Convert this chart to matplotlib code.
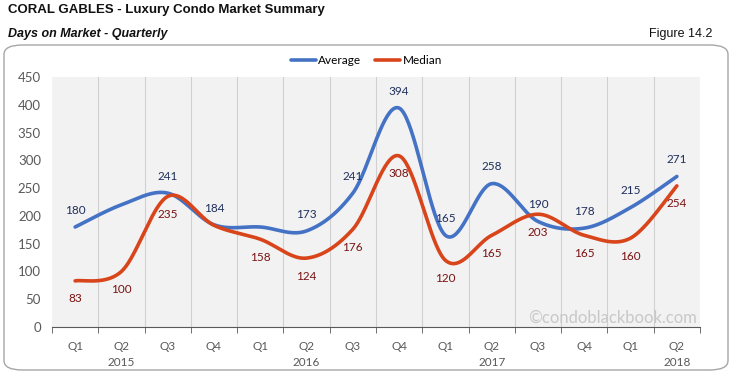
import numpy as np
import matplotlib
matplotlib.use('Agg')
import matplotlib.pyplot as plt
from matplotlib.patches import FancyBboxPatch

#-------------------------------------------------------------
# Data
quarters = ['Q1', 'Q2', 'Q3', 'Q4', 'Q1', 'Q2', 'Q3', 'Q4', 'Q1', 'Q2', 'Q3', 'Q4', 'Q1', 'Q2']
years = ['2015', '2016', '2017', '2018']
year_pos = [1, 5, 9, 13]
average = [180, 220, 241, 184, 180, 173, 241, 394, 165, 258, 190, 178, 215, 271]
median = [83, 100, 235, 183, 158, 124, 176, 308, 120, 165, 203, 165, 160, 254]
# points that carry a data label
avg_labelled = [0, 2, 3, 5, 6, 7, 8, 9, 10, 11, 12, 13]
med_labelled = [0, 1, 2, 4, 5, 6, 7, 8, 9, 10, 11, 12, 13]

blue = '#4472C4'
red = '#D8451B'


#-------------------------------------------------------------
# Excel-like smoothed line (Catmull-Rom through the points)
def smooth(y, n=40):
    x = np.arange(len(y), dtype=float)
    y = np.asarray(y, dtype=float)
    px = np.concatenate([[x[0]], x, [x[-1]]])
    py = np.concatenate([[y[0]], y, [y[-1]]])
    xs, ys = [], []
    t = np.linspace(0, 1, n)
    for i in range(1, len(px) - 2):
        p0, p1, p2, p3 = [np.array([px[k], py[k]]) for k in (i - 1, i, i + 1, i + 2)]
        c1 = p1 + (p2 - p0) / 6
        c2 = p2 - (p3 - p1) / 6
        b = ((1 - t) ** 3)[:, None] * p1 + (3 * (1 - t) ** 2 * t)[:, None] * c1 \
            + (3 * (1 - t) * t ** 2)[:, None] * c2 + (t ** 3)[:, None] * p2
        xs.append(b[:, 0])
        ys.append(b[:, 1])
    return np.concatenate(xs), np.concatenate(ys)


#-------------------------------------------------------------
# Figure
plt.rcParams['font.family'] = ['Liberation Sans', 'DejaVu Sans']
fig = plt.figure(figsize=(7.33, 3.77), dpi=100)

box = FancyBboxPatch((4 / 733, 7 / 377), 724 / 733, 325 / 377,
                     boxstyle='round,pad=0,rounding_size=0.025',
                     transform=fig.transFigure, facecolor='white',
                     edgecolor='#A6A6A6', linewidth=1.0, zorder=-5)
fig.patches.append(box)

fig.text(8 / 733, 1 - 10 / 377, 'CORAL GABLES - Luxury Condo Market Summary',
         fontsize=9.5, fontweight='bold', va='center', ha='left', color='#111111')
fig.text(8 / 733, 1 - 34 / 377, 'Days on Market - Quarterly',
         fontsize=9, fontweight='bold', style='italic', va='center', ha='left', color='#111111')
fig.text(712 / 733, 1 - 34 / 377, 'Figure 14.2',
         fontsize=9, va='center', ha='right', color='#111111')

ax = fig.add_axes([52 / 733, 50 / 377, 648 / 733, 250 / 377])
ax.set_zorder(2)
ax.set_facecolor('#F2F2F2')

x = np.arange(len(quarters))
sx, sy = smooth(average)
ax.plot(sx, sy, color=blue, linewidth=2.6, label='Average', solid_capstyle='round')
sx, sy = smooth(median)
ax.plot(sx, sy, color=red, linewidth=2.6, label='Median', solid_capstyle='round')

for i in avg_labelled:
    ax.annotate(str(average[i]), (x[i], average[i]), xytext=(0, 12),
                textcoords='offset points', ha='center', va='center',
                fontsize=8.5, color='#1F2F5A', family=['Lato', 'DejaVu Sans'])
for i in med_labelled:
    ax.annotate(str(median[i]), (x[i], median[i]), xytext=(0, -13),
                textcoords='offset points', ha='center', va='center',
                fontsize=8.5, color='#7A1212', family=['Lato', 'DejaVu Sans'])

ax.set_xlim(-0.5, len(quarters) - 0.5)
ax.set_ylim(0, 450)
ax.set_yticks(np.arange(0, 451, 50))
ax.tick_params(axis='y', length=0, labelsize=9.5, labelcolor='#595959', pad=8)
for lab in ax.get_yticklabels():
    lab.set_family(['Lato', 'DejaVu Sans'])

ax.set_xticks(x)
ax.set_xticklabels(quarters)
ax.tick_params(axis='x', which='major', length=0, labelsize=8.5, labelcolor='#595959', pad=10)
for lab in ax.get_xticklabels():
    lab.set_family(['Lato', 'DejaVu Sans'])
bounds = np.arange(-0.5, len(quarters), 1.0)
ax.set_xticks(bounds, minor=True)
ax.tick_params(axis='x', which='minor', length=4, color='#595959')
for b in bounds[1:-1]:
    ax.axvline(b, color='#D0D0D0', linewidth=0.8, zorder=0)

for xp, yr in zip(year_pos, years):
    ax.text(xp, -0.14, yr, transform=ax.get_xaxis_transform(), ha='center', va='center',
            fontsize=8.5, color='#595959', family=['Lato', 'DejaVu Sans'])

for s in ['top', 'right', 'left']:
    ax.spines[s].set_visible(False)
ax.spines['bottom'].set_color('#595959')

ax.text(0.995, 0.035, '\u00a9condoblackbook.com', transform=ax.transAxes, ha='right',
        va='center', fontsize=12, color='#C8C8C8', family=['Lato', 'DejaVu Sans'])

fig.legend(loc='center', bbox_to_anchor=(0.5, 1 - 61 / 377), ncol=2, frameon=False,
           handlelength=2.1, columnspacing=1.2, handletextpad=0.2,
           prop={'family': ['Lato', 'DejaVu Sans'], 'size': 8.5})

fig.savefig('out.png', dpi=100)
